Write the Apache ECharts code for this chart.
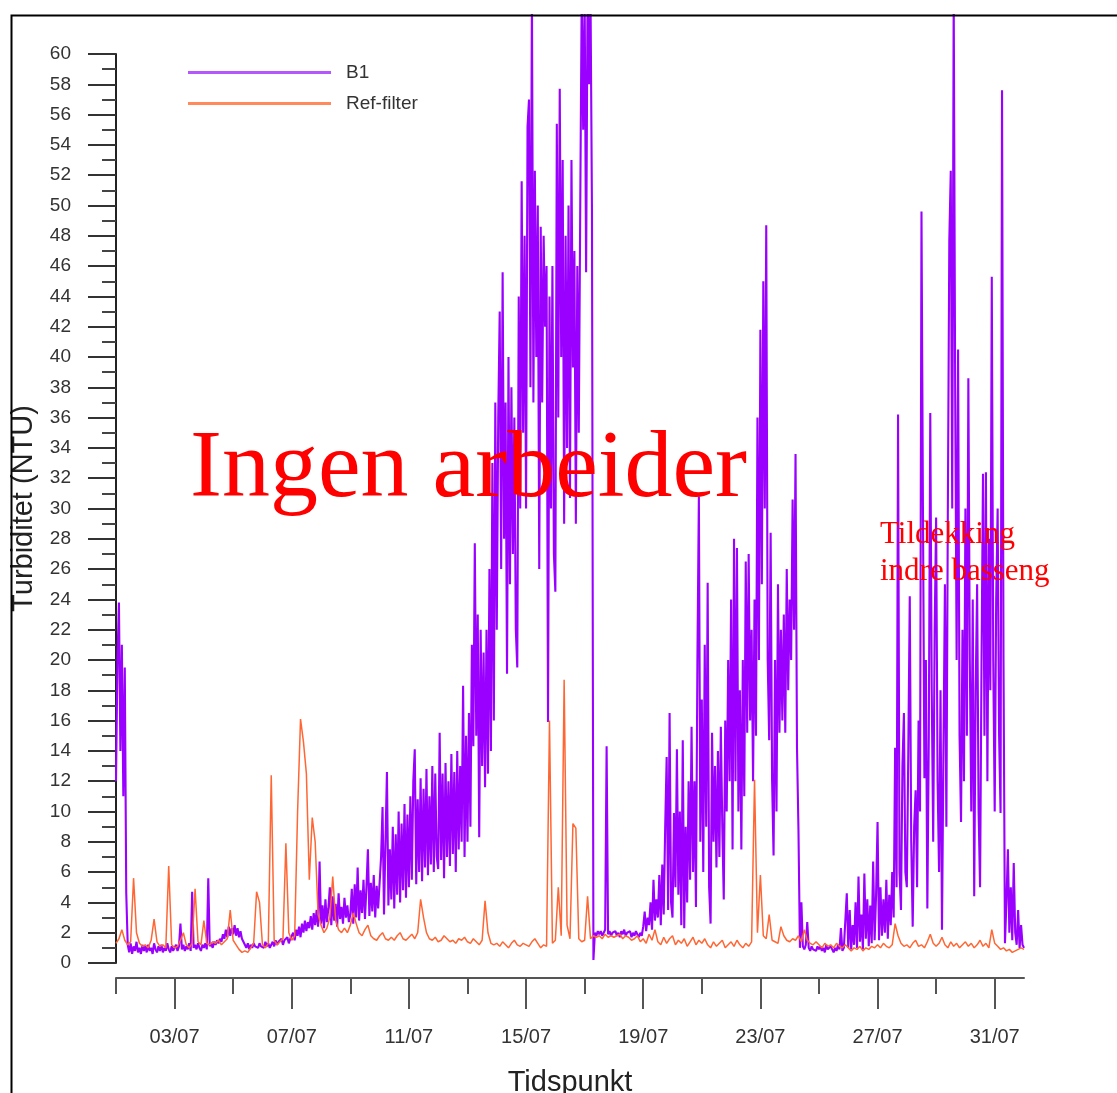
<!DOCTYPE html>
<html>
<head>
<meta charset="utf-8">
<script src="https://cdn.jsdelivr.net/npm/echarts@6/dist/echarts.min.js"></script>
<style>
html,body{margin:0;padding:0;background:#fff;}
#chart{width:1117px;height:1093px;}
</style>
</head>
<body>
<div id="chart"></div>
<script>
// Sample spacing in days (first sample = 01/07 00:00)
const b1StepDays = 0.05;
const refStepDays = 0.1;

// B1 turbidity (NTU), 20 samples per day, days 0..30, plus final sample
const b1Values = [
  12, 20, 23.8, 14, 21, 11, 19.5, 4.6, 1.2, 0.7, 1.3, 0.6, 1.1, 0.8, 1.4, 0.7, 1.0, 0.6, 1.2, 0.8,            // 01/07
  1.1, 0.7, 1.2, 0.8, 1.0, 0.6, 1.3, 0.9, 0.7, 1.1, 0.8, 1.2, 0.7, 1.0, 0.8, 1.3, 0.9, 0.7, 1.1, 0.8,         // 02/07
  0.9, 1.2, 0.8, 1.1, 2.6, 0.9, 1.2, 0.8, 1.1, 0.9, 1.3, 0.8, 4.7, 1.0, 1.2, 0.9, 1.3, 1.0, 0.8, 1.2,         // 03/07
  1.0, 1.3, 0.9, 5.6, 1.1, 1.3, 1.0, 1.4, 1.2, 1.5, 1.3, 1.6, 1.4, 1.9, 1.6, 2.2, 1.7, 2.4, 1.8, 2.3,         // 04/07
  1.9, 2.5, 1.8, 2.3, 1.7, 2.1, 1.6, 1.4, 1.2, 1.0, 1.3, 0.9, 1.2, 1.0, 1.3, 1.1, 1.2, 1.0, 1.3, 1.1,         // 05/07
  1.2, 1.0, 1.4, 1.1, 1.3, 1.0, 1.2, 1.4, 1.1, 1.5, 1.2, 1.4, 1.3, 1.6, 1.2, 1.5, 1.4, 1.7, 1.3, 1.6,         // 06/07
  1.6, 2.0, 1.5, 2.2, 1.8, 2.4, 1.7, 2.6, 2.0, 2.8, 2.1, 2.7, 2.3, 3.1, 2.2, 3.3, 2.5, 3.5, 2.4, 6.7,         // 07/07
  2.6, 3.8, 2.3, 4.2, 2.7, 3.6, 5.0, 2.5, 4.4, 2.8, 3.9, 2.4, 4.6, 2.9, 3.7, 2.6, 4.3, 3.0, 3.8, 2.7,         // 08/07
  3.2, 4.9, 2.6, 5.2, 3.0, 6.3, 2.8, 4.8, 3.3, 5.5, 2.9, 5.0, 7.5, 3.1, 5.3, 3.4, 5.8, 3.0, 5.1, 3.6,         // 09/07
  3.5, 7.0, 10.3, 3.2, 8.0, 12.6, 3.8, 7.5, 4.2, 9.0, 3.6, 8.5, 4.5, 10.0, 4.0, 9.2, 4.8, 10.5, 4.3, 9.8,     // 10/07
  5.0, 11.0, 5.5, 12.0, 14.1, 5.2, 10.8, 6.0, 12.2, 5.4, 11.5, 6.3, 12.8, 5.8, 11.0, 6.5, 13.0, 6.0, 12.5, 7.0, // 11/07
  6.2, 15.2, 6.8, 12.5, 5.6, 13.2, 7.0, 12.0, 6.4, 13.8, 7.2, 12.6, 6.0, 14.0, 7.5, 13.0, 8.0, 18.3, 7.0, 15.0, // 12/07
  8.0, 16.5, 9.0, 21.0, 14.3, 27.7, 15.0, 23.0, 8.3, 22.0, 13.0, 20.5, 11.6, 22.0, 12.5, 26.0, 14.0, 33.0, 16.0, 37.0, // 13/07
  22, 36, 43, 26, 45.6, 28, 37, 19.1, 40, 25, 38, 27, 36, 22, 19.5, 44, 30, 51.6, 35, 48,                      // 14/07
  30, 55.2, 57, 38, 64, 37, 52.3, 40, 50, 26, 48.6, 37, 48, 42, 46, 15.9, 44, 30, 46, 27,                      // 15/07
  24.5, 55.4, 36, 57.7, 40, 53, 29, 48, 34, 50, 30.7, 53, 39.3, 47, 29, 46, 35, 50, 64, 55,                    // 16/07
  64, 45.6, 64, 58, 64, 49.7, 0.2, 2.0, 1.8, 2.1, 1.9, 2.1, 1.8, 2.0, 2.2, 14.3, 1.9, 2.1, 1.8, 2.0,           // 17/07
  1.9, 2.1, 1.8, 2.0, 1.7, 2.1, 1.9, 2.2, 1.8, 2.0, 1.9, 2.1, 1.7, 2.0, 1.8, 2.1, 1.9, 1.7, 2.0, 1.8,         // 18/07
  2.4, 3.4, 2.1, 3.0, 2.5, 4.0, 2.2, 5.5, 2.8, 4.2, 3.0, 5.8, 2.5, 6.5, 3.2, 9.0, 13.6, 3.5, 16.5, 4.0,       // 19/07
  3.0, 9.9, 5.0, 14.1, 4.5, 10, 2.5, 14.7, 2.3, 9.0, 4.0, 12, 5.5, 15.6, 6.0, 12.0, 3.7, 20, 30.8, 8,         // 20/07
  17.4, 6, 21, 9, 25.1, 5, 2.6, 15.2, 8, 13, 6.3, 14, 7, 15.6, 9, 4.2, 16, 10, 20, 12,                       // 21/07
  24, 7.5, 28, 12, 27.4, 10, 18, 7.5, 20, 11, 26.5, 15.2, 27, 16, 22, 12, 24, 15, 36, 20,                    // 22/07
  41.8, 25, 45, 30, 48.7, 20, 14.7, 28.4, 12, 7.1, 20, 10, 25, 15.2, 22, 16, 23, 15.2, 26, 18,               // 23/07
  24, 20, 30.6, 22, 33.6, 14.2, 8.8, 1.0, 4.0, 1.1, 0.9, 1.2, 2.7, 1.0, 0.8, 1.1, 0.9, 1.0, 0.8, 1.1,         // 24/07
  0.9, 1.1, 0.8, 1.0, 0.7, 1.2, 0.9, 0.8, 1.1, 0.9, 0.7, 1.0, 0.8, 1.2, 0.9, 2.3, 0.8, 1.0, 0.9, 4.6,         // 25/07
  1.0, 3.5, 0.9, 2.5, 1.2, 4.0, 1.0, 5.7, 1.4, 3.2, 0.9, 5.9, 1.6, 4.2, 1.1, 3.8, 1.3, 6.7, 1.5, 4.5,         // 26/07
  9.3, 1.5, 5.0, 1.8, 4.2, 2.0, 5.5, 1.6, 4.5, 2.5, 6.0, 3.0, 14.2, 5, 36.2, 6, 3.5, 13, 16.5, 6,             // 27/07
  5, 14, 24.2, 8, 2.4, 9, 11.4, 5, 16, 10, 49.6, 30, 12.2, 20, 3.6, 15, 36.3, 18, 8, 22,                      // 28/07
  29.4, 12, 6, 18, 2.2, 14, 25, 9, 30, 47.7, 52.3, 30, 64, 38, 20, 40.5, 15, 9.3, 22, 12,                    // 29/07
  30, 15, 38.6, 20, 10, 24, 4.4, 18, 25, 10, 5.0, 20, 32.3, 15, 32.4, 12, 28, 18, 45.3, 20,                  // 30/07
  10, 24, 30, 15, 9.9, 57.6, 20, 1.3, 4, 7.5, 2.0, 5, 1.5, 6.6, 2.0, 1.2, 3.5, 1.0, 2.5, 1.2,                 // 31/07
  1.0
];

// Ref-filter turbidity (NTU), 10 samples per day
const refValues = [
  1.3, 1.6, 2.2, 1.5, 1.2, 1.4, 5.6, 2.0, 1.3, 1.1,
  1.2, 1.0, 1.5, 2.9, 1.4, 1.1, 1.2, 1.0, 6.4, 1.2,
  1.0, 1.1, 1.5, 2.0, 1.2, 1.0, 1.3, 4.9, 1.4, 1.2,
  2.8, 1.3, 1.2, 1.4, 1.3, 1.5, 1.2, 1.4, 1.6, 3.5,
  1.5, 1.2, 0.9, 0.7, 0.8, 0.7, 1.0, 1.3, 4.7, 4.0,
  1.2, 1.0, 1.3, 12.4, 1.5, 1.2, 1.4, 1.6, 7.9, 2.0,
  1.5, 1.8, 10, 16.1, 14.6, 12.5, 5.5, 9.6, 8.0, 3.2,
  2.5, 2.0, 2.3, 3.0, 5.7, 2.8, 2.2, 2.0, 2.3, 2.0,
  2.5, 3.3, 2.6, 2.0, 1.8, 2.2, 2.5, 1.8, 1.6, 1.5,
  1.8, 2.0, 1.6, 1.5, 1.7, 1.5, 1.8, 2.0, 1.6, 1.5,
  1.7, 1.9, 1.6, 2.0, 4.2, 3.0, 2.0, 1.6, 1.5, 1.7,
  1.4, 1.5, 1.8, 1.6, 1.4, 1.5, 1.3, 1.6, 1.5, 1.7,
  1.4, 1.3, 1.6, 1.4, 1.2, 1.5, 4.1, 2.0, 1.3, 1.2,
  1.3, 1.1, 1.4, 1.2, 1.0, 1.3, 1.5, 1.2, 1.1, 1.3,
  1.2, 1.1, 1.4, 1.6, 1.3, 1.0, 1.2, 1.1, 16.0, 1.3,
  1.5, 5.0, 1.8, 18.7, 2.5, 1.6, 9.2, 8.9, 1.6, 1.4,
  1.5, 4.4, 1.6, 1.8, 1.7, 1.8, 1.6, 1.9, 1.7, 1.8,
  1.7, 1.8, 1.9, 1.6, 1.8, 1.7, 1.5, 1.6, 1.8, 1.4,
  1.6, 1.3, 1.9, 1.5, 2.2, 1.4, 1.2, 1.7, 1.3, 1.6,
  1.8, 1.2, 1.5, 1.3, 1.6, 1.1, 1.4, 1.7, 1.2, 1.5,
  1.3, 1.6, 1.2, 1.0, 1.4, 1.1, 1.3, 1.5, 1.0, 1.2,
  1.4, 1.1, 1.5, 1.2, 1.0, 1.3, 1.1, 1.4, 12.1, 2.0,
  5.8, 1.8, 1.6, 3.2, 1.5, 1.4, 1.3, 2.4, 1.8, 1.5,
  1.4, 1.6, 1.5, 1.8, 1.4, 2.2, 1.5, 1.3, 1.2, 1.4,
  1.2, 1.0, 1.3, 1.1, 1.2, 1.0, 1.3, 1.1, 1.0, 1.2,
  1.0, 0.8, 1.0, 0.9, 1.1, 0.8, 1.0, 0.9, 1.1, 1.0,
  1.2, 1.0, 1.3, 1.1, 1.0, 1.2, 2.6, 1.8, 1.3, 1.1,
  1.2, 1.0, 1.3, 1.5, 1.1, 1.2, 1.0, 1.4, 1.9, 1.3,
  1.1, 1.3, 1.7, 1.2, 1.0, 1.4, 1.1, 1.3, 1.0, 1.2,
  1.4, 1.1, 1.3, 1.0, 1.2, 1.5, 1.1, 1.3, 1.0, 2.2,
  1.3, 1.1, 0.9, 1.0, 0.8, 0.9, 0.7, 0.8, 0.9, 1.0,
  0.9
];

// Axis ticks / labels
const xMajorTickDays = [2, 6, 10, 14, 18, 22, 26, 30];
const xMajorTickLabels = ['03/07', '07/07', '11/07', '15/07', '19/07', '23/07', '27/07', '31/07'];
const xMinorTickDays = [0, 4, 8, 12, 16, 20, 24, 28];
const yTickValues = [0,2,4,6,8,10,12,14,16,18,20,22,24,26,28,30,32,34,36,38,40,42,44,46,48,50,52,54,56,58,60];

const seriesNames = ['B1', 'Ref-filter'];
const seriesColors = ['#9900ff', '#ff6633'];

function toPairs(vals, step) {
  return vals.map((v, i) => [Math.round(i * step * 1000) / 1000, v]);
}

const chart = echarts.init(document.getElementById('chart'), null, {renderer: 'canvas'});

const gridLeft = 116, gridWidth = 908, axisTop = 54, plotTop = 15, plotBottom = 963;
const yMaxAxis = 60;
const yMaxPlot = yMaxAxis * (plotBottom - plotTop) / (plotBottom - axisTop);

const sans = 'Liberation Sans';

chart.setOption({
  animation: false,
  backgroundColor: '#fff',
  grid: [
    {left: gridLeft, width: gridWidth, top: axisTop, height: plotBottom - axisTop, containLabel: false, outerBoundsMode: 'none'},
    {left: gridLeft, width: gridWidth, top: plotTop, height: plotBottom - plotTop, containLabel: false, outerBoundsMode: 'none'}
  ],
  legend: {
    orient: 'vertical',
    left: 188,
    top: 63,
    padding: 0,
    icon: 'rect',
    itemWidth: 143,
    itemHeight: 3,
    itemGap: 12,
    textStyle: {fontFamily: sans, fontSize: 19, color: '#333', padding: [0, 0, 0, 10], lineHeight: 19},
    data: [
      {name: 'B1', itemStyle: {color: '#b557ff'}},
      {name: 'Ref-filter', itemStyle: {color: '#ff8a5c'}}
    ]
  },
  xAxis: [
    {
      type: 'value', gridIndex: 0, position: 'bottom', min: 0, max: 31, offset: 15,
      name: 'Tidspunkt', nameLocation: 'middle', nameGap: 90,
      nameTextStyle: {fontFamily: sans, fontSize: 29, color: '#222'},
      axisLine: {show: true, onZero: false, lineStyle: {color: '#555', width: 2}},
      axisTick: {show: true, customValues: xMajorTickDays, length: 31, lineStyle: {color: '#555', width: 2}},
      axisLabel: {
        show: true, customValues: xMajorTickDays, margin: 49,
        fontFamily: sans, fontSize: 20, color: '#333',
        formatter: v => xMajorTickLabels[xMajorTickDays.indexOf(v)] || ''
      },
      splitLine: {show: false}
    },
    {
      type: 'value', gridIndex: 0, position: 'bottom', min: 0, max: 31, offset: 15,
      axisLine: {show: false, onZero: false},
      axisTick: {show: true, customValues: xMinorTickDays, length: 16, lineStyle: {color: '#555', width: 2}},
      axisLabel: {show: false},
      splitLine: {show: false}
    },
    {
      type: 'value', gridIndex: 1, min: 0, max: 31, show: false
    }
  ],
  yAxis: [
    {
      type: 'value', gridIndex: 0, min: 0, max: yMaxAxis, interval: 2,
      name: 'Turbiditet (NTU)', nameLocation: 'middle', nameGap: 75,
      nameTextStyle: {fontFamily: sans, fontSize: 29, color: '#222'},
      axisLine: {show: true, lineStyle: {color: '#222', width: 2}},
      axisTick: {show: true, length: 28, lineStyle: {color: '#333', width: 2}},
      minorTick: {show: true, splitNumber: 2, length: 14, lineStyle: {color: '#444', width: 2}},
      axisLabel: {
        show: true, margin: 45, fontFamily: sans, fontSize: 19, color: '#333',
        customValues: yTickValues
      },
      splitLine: {show: false},
      minorSplitLine: {show: false}
    },
    {
      type: 'value', gridIndex: 1, min: 0, max: yMaxPlot, show: false
    }
  ],
  series: [
    {
      name: seriesNames[0], type: 'line', xAxisIndex: 2, yAxisIndex: 1,
      data: toPairs(b1Values, b1StepDays), showSymbol: false, symbol: 'none',
      lineStyle: {color: seriesColors[0], width: 2.1},
      itemStyle: {color: seriesColors[0]},
      clip: true
    },
    {
      name: seriesNames[1], type: 'line', xAxisIndex: 2, yAxisIndex: 1,
      data: toPairs(refValues, refStepDays), showSymbol: false, symbol: 'none',
      lineStyle: {color: seriesColors[1], width: 1.5},
      itemStyle: {color: seriesColors[1]},
      clip: true
    }
  ],
  graphic: [
    {
      type: 'rect', left: 9, top: 13, z: 100, silent: true,
      shape: {x: 0, y: 0, width: 1200, height: 1200},
      style: {fill: 'none', stroke: '#000', lineWidth: 2}
    },
    {
      type: 'text', x: 190, y: 471, z: 100, silent: true,
      style: {text: 'Ingen arbeider', fill: '#ff0000', fontFamily: 'Liberation Serif', fontSize: 96, verticalAlign: 'middle', align: 'left'}
    },
    {
      type: 'text', x: 880, y: 535, z: 100, silent: true,
      style: {text: 'Tildekking', fill: '#ff0000', fontFamily: 'Liberation Serif', fontSize: 31, verticalAlign: 'middle', align: 'left'}
    },
    {
      type: 'text', x: 880, y: 572, z: 100, silent: true,
      style: {text: 'indre basseng', fill: '#ff0000', fontFamily: 'Liberation Serif', fontSize: 31, verticalAlign: 'middle', align: 'left'}
    }
  ]
});
</script>
</body>
</html>
